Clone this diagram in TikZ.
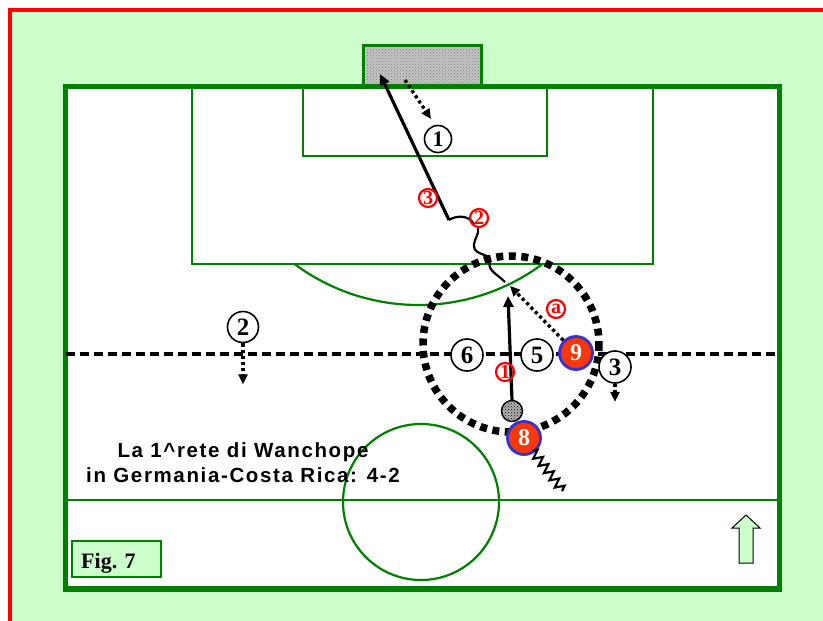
\documentclass[tikz,border=0pt]{standalone}
\usepackage{fontspec}
\setmainfont{Liberation Serif}
\newfontfamily\captionsans[LetterSpace=8]{Liberation Sans}
\usetikzlibrary{arrows.meta,decorations.pathmorphing,patterns}

\definecolor{pitchgreen}{RGB}{0,128,0}
\definecolor{bgmint}{RGB}{204,255,204}
\definecolor{framered}{RGB}{255,0,0}
\definecolor{attfill}{RGB}{250,55,10}
\definecolor{attrim}{RGB}{51,51,204}

\tikzset{
  pitchline/.style={draw=pitchgreen, line width=2.2pt},
  player/.style={circle, draw=black, line width=1.6pt, fill=white, inner sep=0pt,
    minimum size=32pt, font=\bfseries\fontsize{25}{25}\selectfont},
  attacker/.style={circle, draw=attrim, line width=2.8pt, fill=attfill, text=white,
    inner sep=0pt, minimum size=33pt, font=\bfseries\fontsize{24}{24}\selectfont},
  seqmark/.style={circle, draw=red, line width=2.2pt, text=red, inner sep=0pt,
    minimum size=18pt, font=\bfseries\fontsize{20}{20}\selectfont},
  shot/.style={black, line width=3.2pt, -{Triangle[length=11pt,width=10pt]}},
  run/.style={black, line width=3.4pt, dash pattern=on 3.2pt off 3pt,
    -{Triangle[length=10pt,width=9pt]}},
  dribble/.style={black, line width=2.2pt},
  texture/.style={preaction={fill=gray!45}, pattern=crosshatch dots, pattern color=gray!95!black},
  balltexture/.style={preaction={fill=gray!60}, pattern=crosshatch dots, pattern color=black}
}

\begin{document}
\begin{tikzpicture}[x=1pt, y=-1pt]
\useasboundingbox (0,0) rectangle (823,621);

% backdrop and frame
\fill[bgmint] (10,10) rectangle (823,621);
\draw[framered, line width=4.5pt] (10,621) -- (10,10) -- (823,10);

% goal
\draw[draw=pitchgreen, line width=3pt, texture] (363,45) rectangle (481.5,86.5);

% pitch
\draw[pitchgreen, line width=5.5pt, fill=white] (65.5,86.5) rectangle (779.5,589);
\draw[pitchline] (192,86.5) rectangle (653,264);
\draw[pitchline] (303,86.5) rectangle (547,156);
\draw[pitchline] (542.5,264) arc[start angle=53.4, end angle=126.6, radius=208];
\draw[pitchline] (65.5,500) -- (779.5,500);
\draw[pitchline] (421,502) circle[radius=78];

% offside line
\draw[black, line width=3.6pt, dash pattern=on 9pt off 5pt] (65.5,354) -- (779.5,354);

% zone of the action
\draw[black, line width=7.5pt, dash pattern=on 7pt off 5.5pt] (511,344) circle[radius=88];

% named points
\coordinate (goalin) at (380,74);
\coordinate (shotfrom) at (449,220);
\coordinate (cutin) at (505,282);
\coordinate (passend) at (508,296);
\coordinate (runend) at (510,286);
\coordinate (keeperfrom) at (405,80);
\coordinate (keeperto) at (431,119);

% sequence of the move
\draw[shot] (shotfrom) -- (goalin);
\draw[run] (keeperfrom) -- (keeperto);
\draw[dribble] (cutin) .. controls (497,274) and (487,270) .. (490,262)
  .. controls (492,253) and (474,256) .. (474,246)
  .. controls (474,238) and (479,236) .. (478,228);
\draw[dribble] (shotfrom) .. controls (455,216) and (468,214) .. (474,224);

% players
\node[player, minimum size=27pt, font=\bfseries\fontsize{22}{22}\selectfont] (gk) at (438,139) {1};
\node[player, minimum size=31pt] (p2) at (243,327) {2};
\node[player] (p6) at (467,355) {6};
\node[player] (p5) at (537,355) {5};
\node[player] (p3) at (615,367) {3};
\node[attacker] (a9) at (576,353) {9};

\draw[run] (p2.south) -- ++(0,41);
\draw[run] (p3.south) -- ++(0,18);
\draw[run] (a9.north west) -- (runend);

\node[circle, draw=black, line width=1.4pt, balltexture, minimum size=21pt, inner sep=0pt] (ball) at (512,411) {};
\draw[shot] (ball.north) -- (passend);
\node[attacker] (a8) at (524,438) {8};
\draw[dribble, decorate, decoration={zigzag, segment length=9pt, amplitude=4.5pt}]
  (a8.south east) ++(-4,0) -- (563,491) coordinate (a8end);

% order of the actions
\node[seqmark] (s1) at (505,372) {1};
\node[seqmark] (s2) at (479,218) {2};
\node[seqmark] (s3) at (428,198) {3};
\node[seqmark] (sa) at (556,309) {a};

% caption
\node[anchor=base, font=\captionsans\bfseries\fontsize{20.5}{20.5}\selectfont] (cap1) at (243,457) {La 1\^{}rete di Wanchope};
\node[anchor=base, font=\captionsans\bfseries\fontsize{20.5}{20.5}\selectfont] (cap2) at (243,482) {in Germania-Costa Rica: 4-2};

% figure tag
\draw[fill=bgmint, draw=pitchgreen, line width=1.4pt] (72,541) rectangle (161,577);
\node[anchor=base west, font=\bfseries\fontsize{22}{22}\selectfont, inner sep=0pt] (fig) at (81,568) {Fig. 7};

% direction of play
\draw[fill=bgmint, draw=black, line width=1pt] (739,563) -- (753,563) -- (753,528) -- (760,528)
  -- (746,515) -- (732,528) -- (739,528) -- cycle;
\end{tikzpicture}
\end{document}
